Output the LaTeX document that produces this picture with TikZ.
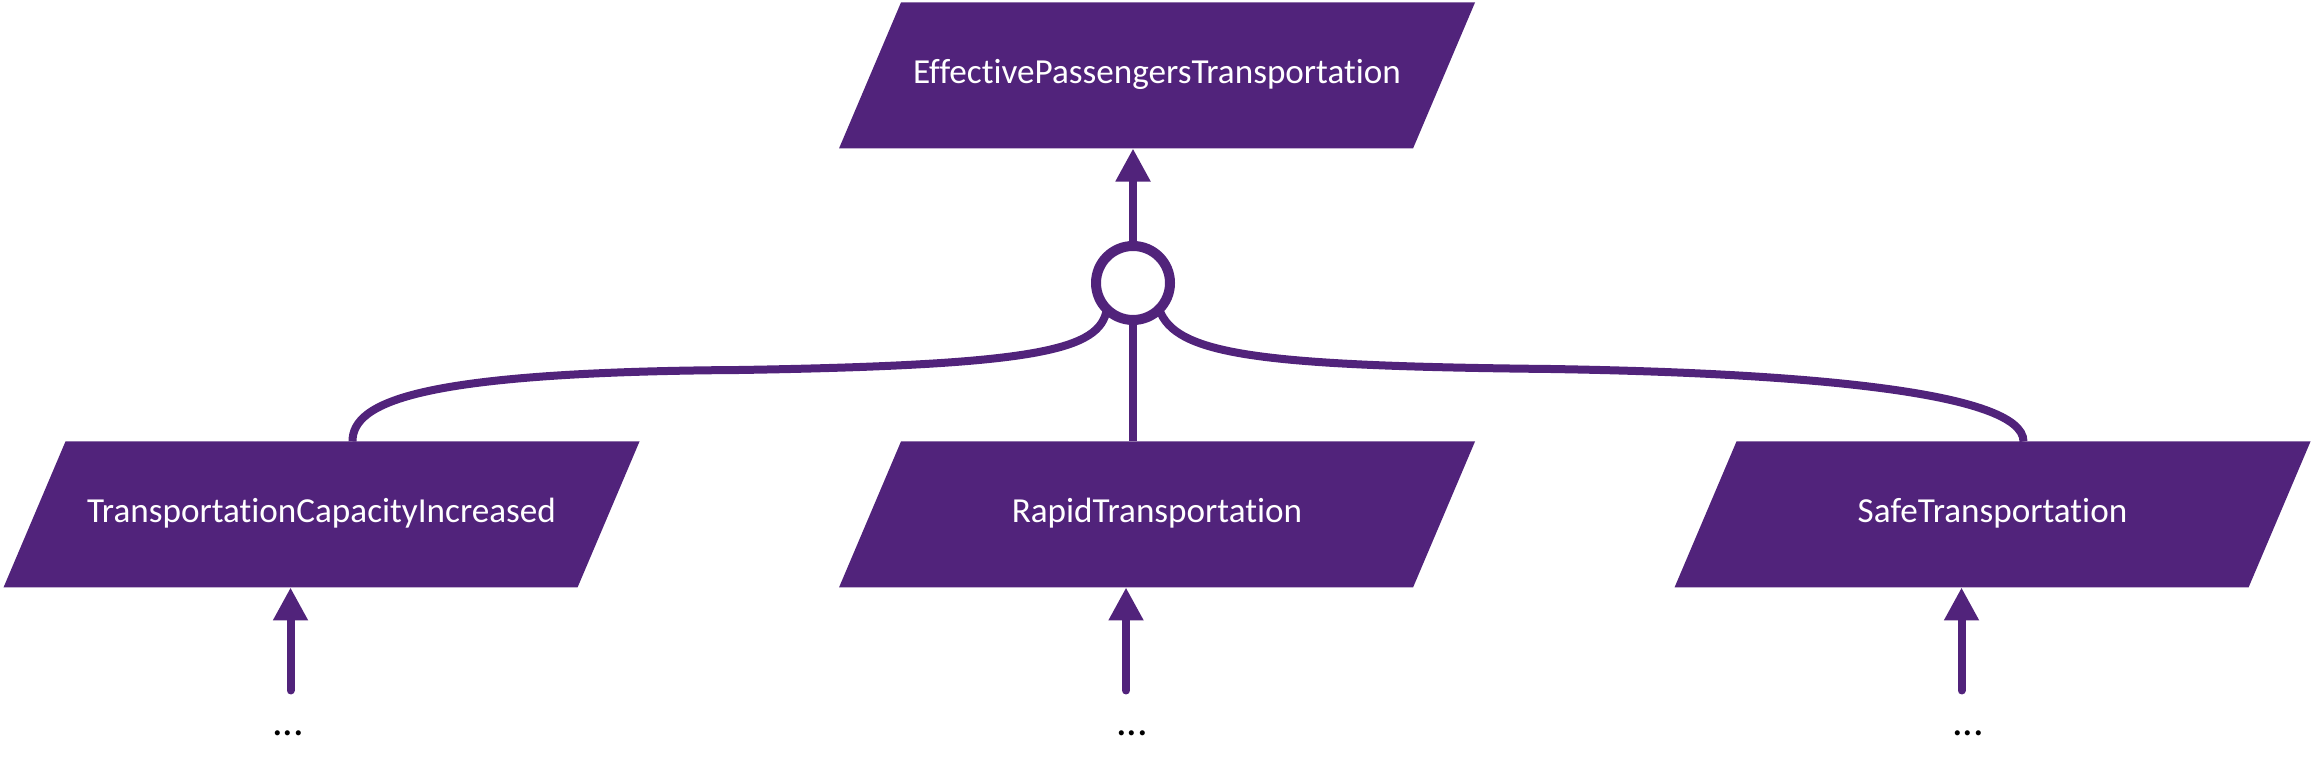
\documentclass[tikz,border=0pt]{standalone}
\usepackage{fontspec}
\setmainfont{Carlito}[Ligatures=NoCommon]
\usepackage{tikz}
\usetikzlibrary{shapes.geometric,arrows.meta,calc}
\definecolor{goalpurple}{RGB}{81,35,123}
\tikzset{
    goal/.style={trapezium, trapezium left angle=67, trapezium right angle=113,
        trapezium stretches body=true,
        minimum width=6.36cm, text height=0.25cm, text depth=0.08cm,
        inner xsep=0pt, inner ysep=0.565cm, outer sep=0pt,
        fill=goalpurple, text=white, font=\fontsize{10}{12}\selectfont},
    andnode/.style={circle, draw=goalpurple, line width=0.1cm, fill=white,
        minimum size=0.74cm, inner sep=0pt, outer sep=0pt},
    link/.style={draw=goalpurple, line width=0.08cm},
    uparrow/.style={link, line cap=round, -{Triangle[length=0.33cm,width=0.33cm]}}
}

\begin{document}
\begin{tikzpicture}
        \useasboundingbox (0,0) rectangle (23.15,7.71);

        % 顶层目标
        \node[goal] (top) at (11.57,6.955) {EffectivePassengersTransportation};

        % 三个子目标
        \foreach \nm/\x/\txt in {cap/3.215/TransportationCapacityIncreased,
                rapid/11.57/RapidTransportation, safe/19.925/SafeTransportation} {
            \node[goal] (\nm) at (\x,2.565) {\txt};
        }

        % 分解节点
        \node[andnode] (and) at (11.33,4.88) {};
        \draw[uparrow] (and.north) -- (and.north |- top.south);
        \draw[link] (and.south) -- (and.south |- rapid.north);
        \draw[link] (and.-135) .. controls (11.00,4.21) and (10.40,4.06) .. (7.40,4.01)
            .. controls (4.20,3.99) and ($(cap.top side)+(0,0.40)$) .. (cap.top side);
        \draw[link] (and.-45) .. controls (11.75,4.16) and (12.60,4.05) .. (15.50,4.02)
            .. controls (18.00,3.98) and ($(safe.top side)+(0,0.50)$) .. (safe.top side);

        % 下方省略部分
        \foreach \nm/\dx in {cap/2.88, rapid/11.32, safe/19.68} {
            \coordinate (\nm tail) at ($(\nm.bottom side)+(0,-1.03)$);
            \draw[uparrow] (\nm tail) -- (\nm.bottom side);
            \node[font=\fontsize{12}{14}\selectfont] (\nm dots) at (\dx,0.38) {...};
        }

\end{tikzpicture}
\end{document}
